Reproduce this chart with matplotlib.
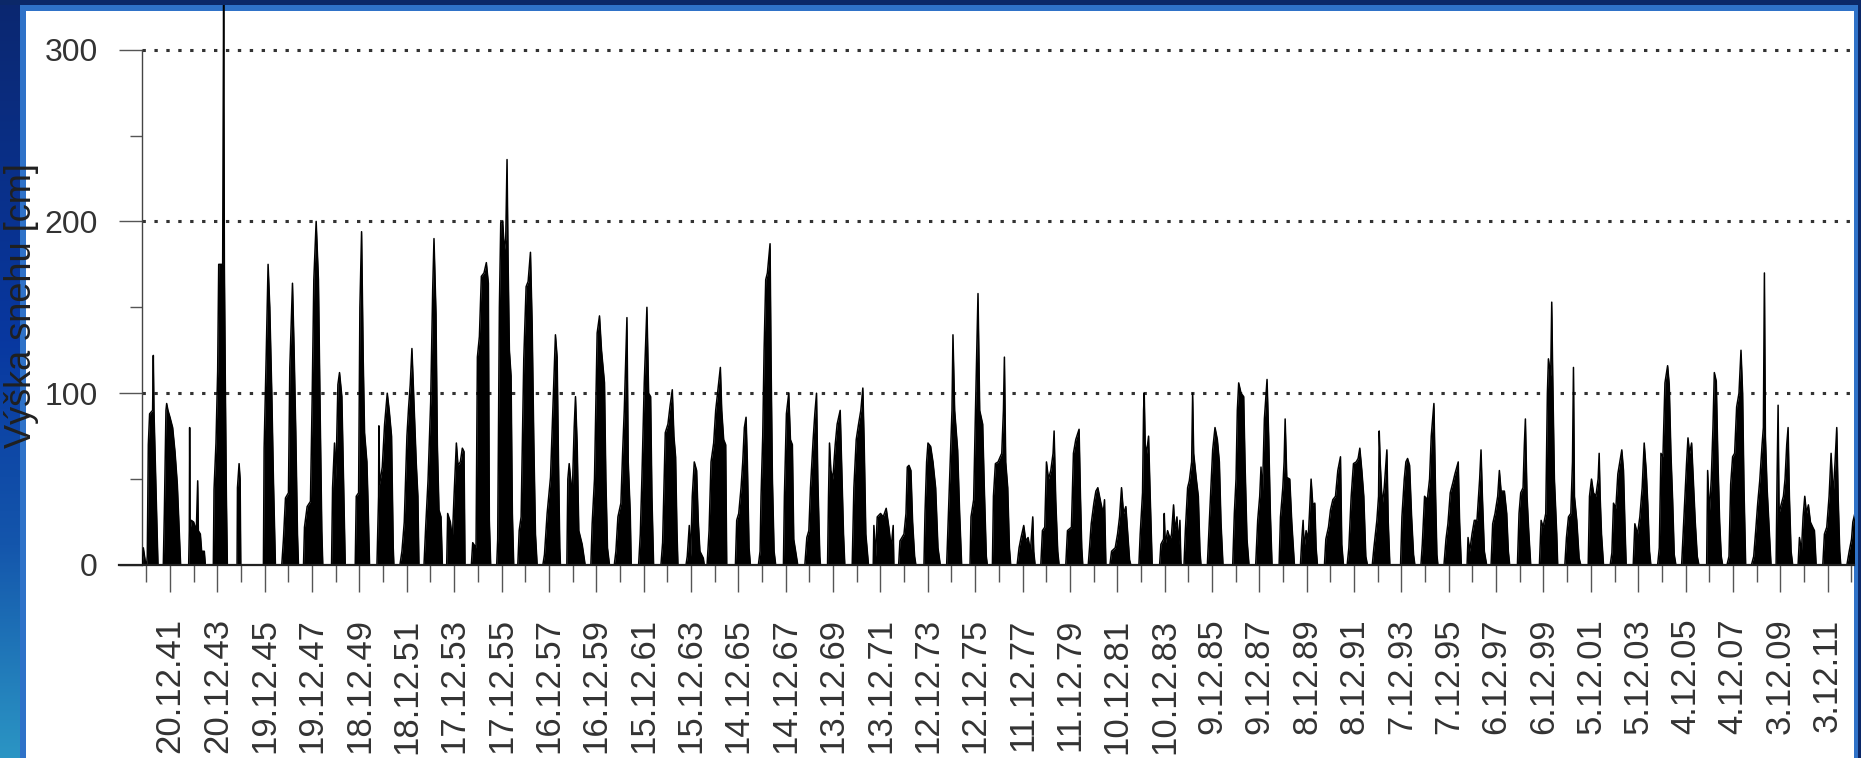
import matplotlib
matplotlib.use("Agg")
import matplotlib.pyplot as plt
import matplotlib.dates as mdates
import numpy as np
from datetime import date
from matplotlib.patches import Rectangle
from matplotlib.colors import LinearSegmentedColormap

# ---------------- data (snow depth, cm) ----------------
# each winter: (start year, [(days after 1 Oct of start year, depth cm), ...])
winters_1940s = [
    (1940, [(18,0),(34,10),(65,2),(85,0),(95,5),(111,70),(131,88),(177,90),(188,122),(198,90),(218,60),(239,30),(260,0)]),
    (1941, [(-23,0),(-7,30),(18,90),(29,94),(49,90),(80,86),(121,80),(157,66),(193,47),(224,18),(244,0)]),
    (1942, [(3,0),(13,20),(18,80),(24,20),(44,26),(80,25),(121,20),(142,49),(152,20),(183,18),(203,8),(244,8),(260,0)]),
    (1943, [(18,0),(29,44),(59,71),(85,113),(101,175),(162,175),(177,335),(188,175),(203,105),(219,40),(234,0)]),
    (1944, [(18,0),(24,45),(49,59),(65,50),(75,0)]),
    (1945, [(59,0),(70,68),(101,120),(131,175),(157,150),(188,100),(213,50),(244,0)]),
    (1946, [(-23,0),(3,15),(34,39),(80,42),(101,115),(142,164),(167,125),(193,77),(219,18),(234,0)]),
    (1947, [(-53,0),(-38,22),(3,34),(54,37),(80,96),(106,166),(142,200),(177,166),(203,90),(229,20),(244,0)]),
    (1948, [(13,0),(29,45),(59,71),(80,50),(111,105),(136,112),(172,98),(198,50),(224,0)]),
    (1949, [(13,0),(29,40),(65,42),(85,150),(111,194),(136,120),(157,77),(193,60),(208,40),(234,0)]),
]
winters_1950s = [
    (1950, [(-17,0),(8,40),(13,81),(24,47),(65,57),(101,82),(142,100),(172,90),(208,75),(234,10),(244,0)]),
    (1951, [(-28,0),(3,8),(39,25),(80,75),(106,92),(131,105),(157,126),(183,100),(224,59),(249,40),(265,0)]),
    (1952, [(-23,0),(3,22),(39,49),(80,95),(111,160),(131,190),(162,146),(183,70),(208,32),(239,28),(260,0)]),
    (1953, [(-38,0),(-23,30),(18,25),(49,15),(75,40),(111,71),(136,58),(172,60),(203,68),(229,66),(244,0)]),
    (1954, [(-23,0),(-2,13),(49,10),(70,121),(101,133),(131,168),(172,170),(208,176),(239,164),(254,26),(275,0)]),
    (1955, [(3,0),(18,15),(44,150),(65,199),(95,200),(121,183),(142,190),(162,236),(177,180),(198,125),(224,110),(244,30),(265,0)]),
    (1956, [(-38,0),(-17,20),(13,28),(54,120),(90,162),(121,165),(157,182),(183,140),(208,73),(234,18),(260,0)]),
    (1957, [(-17,0),(8,6),(49,30),(101,51),(136,90),(177,134),(203,121),(224,60),(244,10),(254,0)]),
    (1958, [(-12,0),(3,50),(24,59),(70,40),(101,80),(121,98),(147,70),(172,20),(224,12),(270,0)]),
    (1959, [(-7,0),(13,24),(49,50),(90,135),(126,145),(157,125),(203,106),(224,50),(249,10),(280,0)]),
]
winters_1960s = [
    (1960, [(-12,0),(13,8),(44,28),(90,36),(116,65),(142,90),(183,144),(203,60),(234,30),(249,0)]),
    (1961, [(-2,0),(24,18),(49,51),(85,106),(126,150),(152,100),(183,98),(203,40),(229,0)]),
    (1962, [(-23,0),(3,13),(44,77),(85,82),(116,92),(152,102),(177,75),(203,63),(224,20),(239,0)]),
    (1963, [(-2,0),(18,5),(49,23),(70,5),(95,40),(126,60),(162,55),(188,25),(213,8),(265,4),(280,0)]),
    (1964, [(-43,0),(-12,20),(18,60),(59,71),(90,90),(162,115),(183,90),(213,73),(244,70),(260,0)]),
    (1965, [(29,0),(49,26),(80,30),(116,45),(142,60),(167,80),(193,86),(213,60),(239,10),(260,0)]),
    (1966, [(18,0),(44,8),(59,40),(85,75),(106,125),(131,166),(157,170),(198,187),(213,120),(234,50),(260,8),(285,0)]),
    (1967, [(39,0),(54,40),(85,88),(121,100),(147,73),(177,70),(198,15),(239,5),(260,0)]),
    (1968, [(3,0),(34,16),(65,20),(90,45),(131,73),(157,88),(183,100),(203,50),(234,5),(244,0)]),
    (1969, [(-12,0),(3,40),(18,71),(39,55),(70,50),(106,70),(136,82),(183,90),(208,55),(234,18),(254,0)]),
]
winters_1970s = [
    (1970, [(3,0),(29,45),(65,73),(101,82),(136,90),(167,103),(188,70),(213,18),(254,0)]),
    (1971, [(-38,0),(-28,23),(-2,5),(24,28),(75,30),(116,28),(162,33),(203,22),(239,10),(270,23),(280,0)]),
    (1972, [(-12,0),(8,14),(70,18),(101,30),(121,57),(147,58),(177,55),(203,25),(234,5),(254,0)]),
    (1973, [(13,0),(29,30),(54,60),(75,71),(116,69),(152,60),(193,45),(229,10),(265,0)]),
    (1974, [(-2,0),(18,22),(54,60),(80,90),(95,134),(121,90),(167,67),(198,30),(229,0)]),
    (1975, [(-7,0),(8,28),(49,38),(75,86),(116,158),(142,90),(188,82),(213,45),(244,5),(260,0)]),
    (1976, [(-28,0),(-12,40),(18,59),(59,60),(116,65),(142,90),(157,121),(177,60),(208,45),(234,10),(254,0)]),
    (1977, [(-12,0),(18,10),(49,16),(90,23),(121,14),(157,16),(193,8),(229,28),(244,8),(265,0)]),
    (1978, [(-12,0),(13,20),(49,22),(75,60),(106,50),(142,55),(177,65),(193,78),(218,38),(249,8),(270,0)]),
    (1979, [(8,0),(34,20),(95,22),(126,65),(162,73),(213,79),(234,40),(254,10),(270,0)]),
]
winters_1980s = [
    (1980, [(-12,0),(8,10),(34,24),(75,36),(106,43),(136,45),(183,36),(219,30),(239,38),(260,0)]),
    (1981, [(-43,0),(-17,8),(39,10),(75,18),(106,28),(136,45),(167,30),(203,34),(229,20),(260,3),(280,0)]),
    (1982, [(39,0),(59,18),(95,42),(111,90),(121,100),(136,70),(157,65),(188,75),(213,40),(244,0)]),
    (1983, [(-7,0),(13,12),(54,15),(65,30),(80,12),(116,20),(157,15),(177,18),(208,35),(229,20),(260,28),(285,12),(306,26),(320,3),(325,0)]),
    (1984, [(3,0),(24,20),(59,45),(85,49),(121,60),(136,100),(152,65),(193,50),(224,40),(249,8),(265,0)]),
    (1985, [(-2,0),(24,22),(49,42),(80,67),(116,80),(152,73),(183,60),(208,25),(239,0)]),
    (1986, [(24,0),(49,30),(75,50),(95,90),(116,106),(152,100),(193,98),(213,60),(244,15),(275,0)]),
    (1987, [(13,0),(44,26),(75,40),(95,57),(116,40),(147,85),(188,108),(213,75),(239,30),(265,0)]),
    (1988, [(8,0),(29,28),(65,45),(85,60),(101,85),(126,51),(172,50),(203,25),(244,0)]),
    (1989, [(-28,0),(-7,15),(13,26),(29,10),(59,20),(90,15),(111,30),(136,50),(162,35),(193,36),(213,10),(234,0)]),
]
winters_1990s = [
    (1990, [(-23,0),(-2,15),(39,22),(70,32),(106,38),(147,40),(183,55),(224,63),(244,12),(270,0)]),
    (1991, [(-38,0),(-12,10),(24,40),(59,59),(101,60),(131,62),(157,68),(188,55),(218,40),(249,5),(275,0)]),
    (1992, [(-17,0),(8,10),(54,26),(80,40),(90,78),(106,59),(136,35),(167,45),(208,67),(229,25),(254,0)]),
    (1993, [(54,0),(75,28),(111,50),(136,60),(162,62),(193,58),(224,28),(254,6),(275,0)]),
    (1994, [(3,0),(24,12),(59,40),(101,38),(136,50),(162,75),(203,94),(229,40),(249,6),(265,0)]),
    (1995, [(-7,0),(24,15),(54,24),(90,42),(131,48),(162,53),(213,60),(234,25),(260,0)]),
    (1996, [(-17,0),(-2,16),(24,8),(59,18),(95,26),(136,26),(177,50),(198,67),(219,40),(249,8),(285,0)]),
    (1997, [(-12,0),(13,24),(49,30),(90,40),(116,55),(142,43),(193,43),(229,30),(254,8),(275,0)]),
    (1998, [(29,0),(54,30),(80,42),(116,45),(136,70),(152,85),(177,40),(203,20),(234,0)]),
    (1999, [(3,0),(29,26),(59,22),(101,30),(126,100),(142,120),(177,110),(193,153),(208,110),(234,50),(270,18),(285,0)]),
]
winters_2000s = [
    (2000, [(29,0),(54,16),(85,28),(121,30),(147,60),(162,115),(177,40),(213,26),(249,4),(275,0)]),
    (2001, [(24,0),(44,40),(75,50),(106,42),(142,40),(177,50),(193,65),(208,40),(229,18),(260,0)]),
    (2002, [(-2,0),(24,7),(49,36),(85,33),(116,53),(147,60),(177,67),(203,55),(224,25),(244,0)]),
    (2003, [(-12,0),(13,24),(54,18),(90,28),(126,45),(157,71),(188,55),(213,35),(239,8),(260,0)]),
    (2004, [(-2,0),(24,10),(49,65),(80,63),(111,106),(152,116),(177,105),(203,65),(229,38),(254,6),(280,0)]),
    (2005, [(3,0),(29,20),(54,40),(80,60),(101,74),(126,65),(157,71),(188,45),(213,25),(244,5),(270,0)]),
    (2006, [(24,0),(39,55),(65,30),(95,50),(121,80),(142,112),(172,107),(198,60),(224,25),(249,5),(270,0)]),
    (2007, [(-28,0),(3,5),(29,47),(59,63),(90,65),(121,92),(157,100),(188,125),(213,100),(234,45),(260,0)]),
    (2008, [(-17,0),(18,5),(49,20),(80,36),(111,49),(147,70),(167,80),(183,170),(198,75),(224,45),(260,18),(285,0)]),
    (2009, [(-2,0),(13,50),(29,93),(44,30),(75,35),(111,40),(136,50),(162,70),(183,80),(203,40),(229,8),(254,0)]),
]
winters_2010s = [
    (2010, [(-28,0),(-7,16),(24,8),(49,28),(75,40),(101,30),(131,35),(162,25),(198,22),(224,20),(250,0)]),
    (2011, [(-12,0),(13,18),(49,22),(85,40),(116,65),(147,40),(177,60),(203,80),(224,40),(249,8),(265,0)]),
    (2012, [(-7,0),(29,8),(65,15),(85,25),(116,30)]),
]

tick_labels = ["20.12.41", "20.12.43", "19.12.45", "19.12.47", "18.12.49", "18.12.51",
               "17.12.53", "17.12.55", "16.12.57", "16.12.59", "15.12.61", "15.12.63",
               "14.12.65", "14.12.67", "13.12.69", "13.12.71", "12.12.73", "12.12.75",
               "11.12.77", "11.12.79", "10.12.81", "10.12.83", "9.12.85", "9.12.87",
               "8.12.89", "8.12.91", "7.12.93", "7.12.95", "6.12.97", "6.12.99",
               "5.12.01", "5.12.03", "4.12.05", "4.12.07", "3.12.09", "3.12.11"]
y_major = [0, 100, 200, 300]
y_minor = [50, 150, 250]
y_label = "Výška snehu [cm]"

# ---------------- layout ----------------
W, H, DPI = 1861, 758, 100
AX_L, AX_R, AX_B, AX_T = 141.7, 1854.0, 565.0, 5.0   # pixels from left / top
PX_PER_CM = 1.718
PX_PER_DAY = 0.06488
X_START = date(1940, 10, 10)

FONT = ['Liberation Sans', 'DejaVu Sans']


def parse_label(s):
    d, m, y = (int(v) for v in s.split('.'))
    return date(2000 + y if y < 40 else 1900 + y, m, d)


xs, ys = [], []
for group in (winters_1940s, winters_1950s, winters_1960s, winters_1970s,
              winters_1980s, winters_1990s, winters_2000s, winters_2010s):
    for year, pts in group:
        base = mdates.date2num(date(year, 10, 1))
        for d, v in pts:
            xs.append(base + d)
            ys.append(v)
xs = np.array(xs)
ys = np.array(ys)

major_x = np.array([mdates.date2num(parse_label(s)) for s in tick_labels])
minor_x = np.concatenate([major_x - 365, [major_x[-1] + 365]])

fig = plt.figure(figsize=(W / DPI, H / DPI), dpi=DPI, facecolor='white')

# slide background decorations
bg = fig.add_axes([0, 0, 1, 1], zorder=0)
bg.set_xlim(0, W)
bg.set_ylim(H, 0)
bg.axis('off')
grad_cmap = LinearSegmentedColormap.from_list(
    'slide', [(0.0, '#0b2770'), (0.45, '#0838a0'), (0.72, '#1456ac'), (1.0, '#2b95c4')])
grad = np.linspace(0, 1, 256).reshape(-1, 1)
bg.imshow(grad, extent=(0, 20, H, 0), aspect='auto', cmap=grad_cmap, interpolation='bilinear')
light = '#2f72c8'
navy = '#0b2868'
bg.add_patch(Rectangle((20, 0), 6, H, color=light, lw=0))
bg.add_patch(Rectangle((0, 0), W, 5, color=navy, lw=0))
bg.add_patch(Rectangle((20, 5), W - 20, 5.7, color=light, lw=0))
bg.add_patch(Rectangle((1854, 5), 4, H, color=light, lw=0))
bg.add_patch(Rectangle((1858, 0), 3, H, color=navy, lw=0))

# main axes
ax = fig.add_axes([AX_L / W, (H - AX_B) / H, (AX_R - AX_L) / W, (AX_B - AX_T) / H], zorder=1)
ax.patch.set_alpha(0)
x0 = mdates.date2num(X_START)
ax.set_xlim(x0, x0 + (AX_R - AX_L) / PX_PER_DAY)
ax.set_ylim(0, (AX_B - AX_T) / PX_PER_CM)

for v in (100, 200, 300):
    ax.axhline(v, color='#333333', lw=2.2, linestyle=(0, (1.1, 2.8)), zorder=1)

ax.fill_between(xs, ys, 0, color='black', lw=0, zorder=2)
ax.plot(xs, ys, color='black', lw=1.1, zorder=3)

ax.axhline(0, xmin=-(AX_L - 119) / (AX_R - AX_L), xmax=1, color='#222222', lw=1.6,
           clip_on=False, zorder=4)

for s in ('top', 'right', 'bottom'):
    ax.spines[s].set_visible(False)
ax.spines['left'].set_bounds(0, 300)
ax.spines['left'].set_color('#444444')
ax.spines['left'].set_linewidth(1.0)

ax.set_xticks(major_x)
ax.set_xticklabels(tick_labels, rotation=90, family=FONT)
ax.set_xticks(minor_x, minor=True)
ax.tick_params(axis='x', which='major', direction='out', length=19.4, width=1.0,
               color='#555555', pad=19, labelsize=25, labelcolor='#333333')
ax.tick_params(axis='x', which='minor', direction='out', length=12.2, width=1.0,
               color='#555555')

ax.set_yticks(y_major)
ax.set_yticklabels([str(v) for v in y_major], family=FONT)
ax.set_yticks(y_minor, minor=True)
ax.tick_params(axis='y', which='major', direction='out', length=16.5, width=1.0,
               color='#555555', pad=15, labelsize=23, labelcolor='#333333')
ax.tick_params(axis='y', which='minor', direction='out', length=9, width=1.0,
               color='#555555')

fig.text(22 / W, 1 - 306 / H, y_label, rotation=90, ha='center', va='center',
         fontsize=26, color='#202020', family=FONT, zorder=5)

fig.savefig('out.png', dpi=DPI, facecolor='white')
